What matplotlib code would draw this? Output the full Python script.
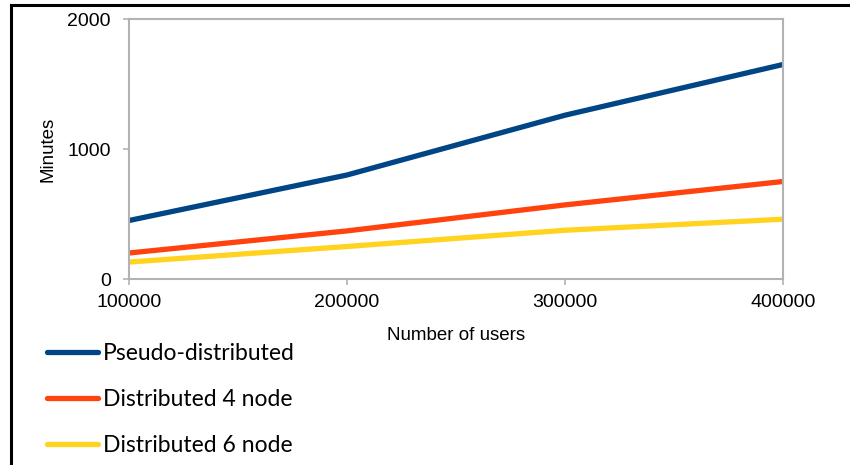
import matplotlib
matplotlib.use('Agg')
import matplotlib.pyplot as plt
from matplotlib.lines import Line2D

users = [100000, 200000, 300000, 400000]
pseudo = [450, 800, 1260, 1650]
dist4 = [200, 370, 570, 750]
dist6 = [130, 250, 375, 460]
labels = ['Pseudo-distributed', 'Distributed 4 node', 'Distributed 6 node']
colors = ['#004586', '#ff420e', '#ffd320']

plt.rcParams['font.family'] = ['Liberation Sans', 'DejaVu Sans']

fig = plt.figure(figsize=(8.5, 4.65), dpi=100)
ax = fig.add_axes([129/850, 1-279/465, (783-129)/850, (279-19)/465])

lines = []
for ys, c, lab in zip([pseudo, dist4, dist6], colors, labels):
    l, = ax.plot(users, ys, color=c, lw=3.8, label=lab, solid_capstyle='round', solid_joinstyle='round')
    lines.append(l)

ax.set_xlim(100000, 400000)
ax.set_ylim(0, 2000)
ax.set_xticks(users)
ax.set_yticks([0, 1000, 2000])
for s in ax.spines.values():
    s.set_color('#b3b3b3')
    s.set_linewidth(1.5)
ax.tick_params(colors='#b3b3b3', labelcolor='black', length=4, width=1.2, labelsize=14)
ax.tick_params(axis='y', pad=9)
ax.tick_params(axis='x', pad=7)
ax.set_xlabel('Number of users', fontsize=13.5, labelpad=11)
ax.set_ylabel('Minutes', fontsize=13.5, labelpad=8)

fig.legend(handles=lines, loc='upper left', bbox_to_anchor=(38/850, 1-334/465),
           frameon=False, prop={'family': 'Lato', 'size': 16.5},
           handlelength=2.2, handletextpad=0.25, labelspacing=1.08, borderaxespad=0)

# border lines at top and left
fig.add_artist(Line2D([11/850, 1], [1-5/465, 1-5/465], color='black', lw=2.2, transform=fig.transFigure))
fig.add_artist(Line2D([11/850, 11/850], [0, 1-5/465], color='black', lw=2.2, transform=fig.transFigure))

fig.savefig('out.png', dpi=100)
